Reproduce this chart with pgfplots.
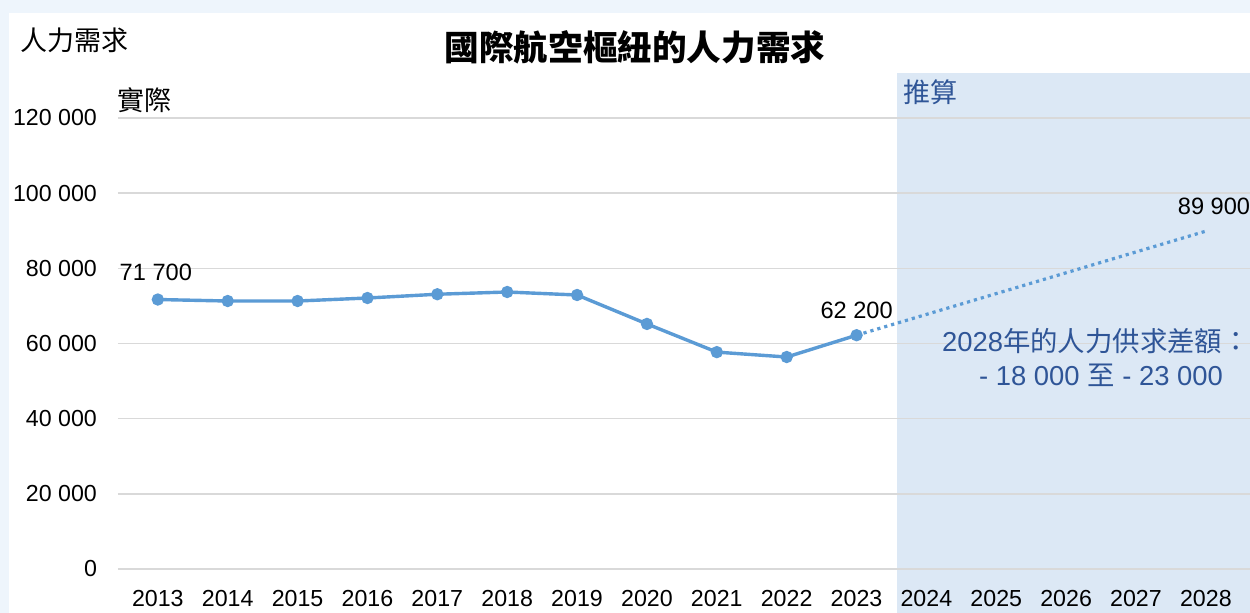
\documentclass[border=0pt]{standalone}
\usepackage{fontspec}
\usepackage{pgfplots}
\pgfplotsset{compat=1.18}
\setmainfont{Liberation Sans}
\newfontfamily\cjk{Noto Sans CJK TC}
\definecolor{outerbg}{HTML}{EEF5FC}
\definecolor{projbg}{HTML}{DCE8F5}
\definecolor{lineblue}{HTML}{5B9BD5}
\definecolor{annblue}{HTML}{2F5597}
\definecolor{gridgray}{HTML}{D9D9D9}
\begin{document}
\begin{tikzpicture}
\useasboundingbox (0,0) rectangle (625pt,306.5pt);
\fill[outerbg] (0,0) rectangle (625pt,306.5pt);
\fill[white] (4.5pt,0) rectangle (625pt,300pt);
\fill[projbg] (448.5pt,0) rectangle (625pt,270pt);
\begin{axis}[
  at={(59pt,22pt)}, anchor=south west,
  scale only axis, width=566pt, height=225.5pt,
  xmin=2012.43, xmax=2028.63, ymin=0, ymax=120000,
  clip=false,
  axis line style={draw=none},
  tick style={draw=none},
  scaled y ticks=false,
  ymajorgrids, major grid style={gridgray, line width=0.8pt},
  xtick={2013,2014,...,2028},
  xticklabels={2013,2014,2015,2016,2017,2018,2019,2020,2021,2022,2023,2024,2025,2026,2027,2028},
  ytick={0,20000,...,120000},
  yticklabels={0,20 000,40 000,60 000,80 000,100 000,120 000},
  /pgf/number format/assume math mode=true,
  ticklabel style={font=\fontsize{11.6pt}{13pt}\selectfont},
  yticklabel style={anchor=east, xshift=-7pt},
  xticklabel style={anchor=north, yshift=-7pt},
]
\addplot[lineblue, line width=1.7pt, mark=*, mark size=2.2pt, mark options={solid}]
coordinates {(2013,71700) (2014,71300) (2015,71300) (2016,72100) (2017,73100) (2018,73700) (2019,72900) (2020,65200) (2021,57700) (2022,56400) (2023,62200)};
\addplot[lineblue, line width=1.6pt, dotted]
coordinates {(2023,62200) (2028,89900)};
\node[anchor=south, font=\fontsize{11.8pt}{13pt}\selectfont, inner sep=0pt, yshift=9pt, xshift=-1pt] at (axis cs:2013,71700) {71 700};
\node[anchor=south, font=\fontsize{11.8pt}{13pt}\selectfont, inner sep=0pt, yshift=8pt] at (axis cs:2023,62200) {62 200};
\node[anchor=south, font=\fontsize{11.8pt}{13pt}\selectfont, inner sep=0pt, yshift=8pt, xshift=4pt] at (axis cs:2028,89900) {89 900};
\end{axis}
\node[font=\cjk\fontsize{13.5pt}{15pt}\selectfont, inner sep=0pt] at (37pt,286.5pt) {人力需求};
\node[font=\cjk\bfseries\fontsize{17.3pt}{19pt}\selectfont, inner sep=0pt] at (317.5pt,283pt) {國際航空樞紐的人力需求};
\node[font=\cjk\fontsize{13.5pt}{15pt}\selectfont, inner sep=0pt] at (72.5pt,256.5pt) {實際};
\node[font=\cjk\fontsize{13.5pt}{15pt}\selectfont, inner sep=0pt, text=annblue] at (465.25pt,260.25pt) {推算};
\node[font=\fontsize{13.7pt}{15pt}\selectfont, inner sep=0pt, text=annblue, anchor=east] at (625pt,136pt) {2028{\cjk 年的人力供求差額：}};
\node[font=\fontsize{13.7pt}{15pt}\selectfont, inner sep=0pt, text=annblue] at (550.5pt,119pt) {- 18 000 {\cjk 至} - 23 000};
\end{tikzpicture}
\end{document}
